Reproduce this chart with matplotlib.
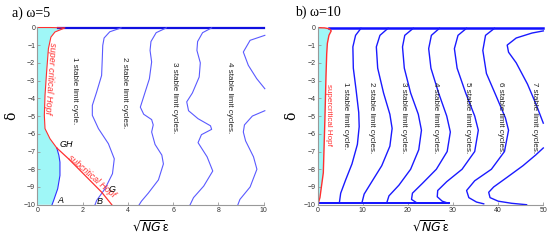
import numpy as np
import matplotlib
matplotlib.use("Agg")
import matplotlib.pyplot as plt

plt.rcParams['font.family'] = ['Liberation Sans', 'DejaVu Sans']
plt.rcParams['mathtext.fontset'] = 'dejavusans'

# ---- panel a (omega = 5) ----
# supercritical Hopf (red), from the top down to GH
sup_a_x = [0.0, 0.6, 1.22, 0.78, 0.60, 0.49, 0.41, 0.34, 0.31, 0.34, 0.56, 0.86]
sup_a_y = [-0.01, -0.01, -0.03, -0.26, -0.55, -1.2, -2.52, -3.83, -4.96, -5.71, -6.28, -6.8]
# subcritical Hopf (red), GH down to the bottom
sub_a_x = [0.86, 1.37, 2.11, 2.84, 3.29]
sub_a_y = [-6.8, -7.4, -8.35, -9.29, -10.0]
# blue boundary GH -> A
bnd_a_x = [0.86, 0.95, 1.0, 1.0, 0.9, 0.71, 0.65]
bnd_a_y = [-6.8, -7.2, -7.6, -8.35, -9.1, -9.8, -10.0]

curves_a = [
    ([3.7, 3.2, 2.95, 2.89, 2.87, 2.84, 2.62, 2.43, 2.43, 2.70, 3.14, 3.40, 3.32, 2.99, 2.62, 2.55],
     [-0.03, -0.25, -0.6, -1.02, -1.77, -2.71, -3.65, -4.40, -4.96, -5.71, -6.56, -7.41, -8.25, -9.10, -9.76, -10.0]),
    ([5.7, 5.25, 5.02, 4.98, 5.05, 4.95, 4.70, 4.55, 4.70, 5.05, 5.12, 5.05, 5.20, 5.50, 5.57, 5.35, 4.90, 4.60, 4.50],
     [-0.03, -0.3, -0.8, -1.3, -1.95, -2.9, -3.9, -4.5, -4.9, -5.2, -5.5, -5.9, -6.6, -7.2, -7.7, -8.6, -9.35, -9.8, -10.0]),
    ([7.7, 7.3, 7.08, 7.05, 7.20, 7.15, 6.85, 6.60, 6.68, 7.10, 7.65, 7.70, 7.25, 7.10, 7.50, 7.75, 7.35, 6.90, 6.75],
     [-0.03, -0.3, -0.8, -1.3, -2.0, -2.8, -3.7, -4.2, -4.7, -5.15, -5.55, -5.75, -6.05, -6.5, -7.3, -8.1, -8.95, -9.6, -10.0]),
    ([10.05, 9.4, 9.1, 9.32, 9.69, 10.05],
     [-0.45, -0.73, -1.39, -2.14, -2.89, -3.46]),
    ([10.05, 9.5, 9.15, 9.1, 9.2, 9.55, 9.7, 9.4, 8.95, 8.86],
     [-4.7, -5.0, -5.5, -5.9, -6.4, -7.3, -8.0, -9.0, -9.7, -10.0]),
]
labels_a = ['1 stable limit cycle.', '2 stable limit cycles.',
            '3 stable limit cycles.', '4 stable limit cycles.']
label_a_x = [1.64, 3.85, 6.05, 8.5]
label_a_y = [-1.67, -1.67, -1.95, -1.95]

# ---- panel b (omega = 10) ----
sup_b_x = [0.0, 1.5, 2.6, 3.0, 2.5, 2.15, 2.0, 1.85, 1.6, 1.25, 0.5, 0.1]
sup_b_y = [-0.02, -0.03, -0.08, -0.2, -0.45, -0.9, -1.5, -2.7, -5.2, -8.2, -9.6, -9.95]

curves_b = [
    ([9.6, 8.4, 7.8, 7.9, 8.5, 9.1, 9.2, 8.8, 7.6, 6.2, 5.1, 4.8],
     [-0.05, -0.45, -1.1, -2.3, -3.5, -4.8, -5.6, -6.6, -7.7, -8.6, -9.35, -9.9]),
    ([15.6, 13.8, 13.0, 13.3, 14.6, 16.0, 16.5, 16.0, 14.2, 12.0, 10.3, 9.8],
     [-0.05, -0.45, -1.1, -2.3, -3.7, -4.9, -5.7, -6.7, -7.8, -8.7, -9.4, -9.9]),
    ([21.2, 19.3, 18.8, 19.2, 20.6, 22.3, 23.0, 22.4, 20.6, 18.0, 15.8, 15.3],
     [-0.05, -0.45, -1.1, -2.3, -3.7, -4.9, -5.8, -6.9, -8.0, -8.9, -9.5, -9.9]),
    ([27.0, 25.2, 24.6, 25.1, 26.8, 28.6, 29.4, 28.7, 26.3, 23.2, 21.0, 20.8, 22.0],
     [-0.05, -0.45, -1.2, -2.3, -3.7, -5.0, -5.9, -7.0, -8.0, -8.8, -9.35, -9.7, -9.9]),
    ([33.0, 31.1, 30.3, 30.9, 32.8, 34.8, 35.6, 34.8, 32.0, 28.6, 26.6, 26.5, 27.6, 29.0],
     [-0.05, -0.45, -1.2, -2.3, -3.7, -5.0, -5.8, -7.0, -8.0, -8.7, -9.2, -9.55, -9.8, -9.92]),
    ([39.2, 37.2, 36.6, 37.4, 39.6, 41.6, 42.3, 41.4, 38.5, 34.8, 33.0, 33.5, 35.2, 36.8],
     [-0.05, -0.45, -1.3, -2.6, -3.9, -5.1, -5.8, -7.0, -8.0, -8.65, -9.2, -9.6, -9.85, -9.95]),
    ([50.0, 47.5, 44.0, 42.0, 42.3, 44.0, 46.5, 48.5, 50.0],
     [-0.2, -0.32, -0.6, -1.0, -1.4, -2.0, -3.2, -4.4, -5.4]),
    ([50.0, 48.3, 45.5, 42.0, 39.0, 37.9, 38.2, 40.0, 43.0, 46.3],
     [-6.8, -7.2, -7.8, -8.45, -9.0, -9.3, -9.6, -9.8, -9.92, -10.0]),
]
labels_b = ['1 stable limit cycle.'] + ['%d stable limit cycles.' % n for n in range(2, 8)]
label_b_x = [6.2, 12.0, 19.0, 26.2, 33.3, 40.6, 48.0]
label_b_y = [-3.1] * 7

CYAN = '#9ff7f7'
RED = '#ff3030'


def style_axes(ax, xmax, xticks):
    ax.set_xlim(0, xmax)
    ax.set_ylim(-10, 0)
    ax.set_xticks(xticks)
    ax.set_yticks(range(-10, 1))
    for s in ['top', 'right']:
        ax.spines[s].set_visible(False)
    for s in ['left', 'bottom']:
        ax.spines[s].set_color('#999999')
        ax.spines[s].set_linewidth(0.8)
    ax.tick_params(direction='in', length=2, width=0.6, color='#999999',
                   labelsize=5, pad=1.5, labelcolor='#333333')
    ax.set_xlabel(r'$\sqrt{NG}$ε', fontsize=9, labelpad=4)
    ax.set_ylabel('δ', fontsize=10, family='DejaVu Serif', labelpad=4)


fig = plt.figure(figsize=(5.48, 2.4), dpi=100)
axa = fig.add_axes([0.0681, 0.147, 0.4131, 0.739])
axb = fig.add_axes([0.5797, 0.147, 0.4117, 0.739])

# panel a
fx = [0.0] + list(sup_a_x) + list(bnd_a_x[1:]) + [0.0]
fy = [0.0] + list(sup_a_y) + list(bnd_a_y[1:]) + [-10.0]
axa.fill(fx, fy, color=CYAN, lw=0)
axa.plot([0.9, 10], [-0.03, -0.03], color='#1010e0', lw=1.6, clip_on=False)
for cx, cy in curves_a:
    axa.plot(cx, cy, color='#5a5aff', lw=0.8, clip_on=False)
axa.plot(bnd_a_x, bnd_a_y, color='#3030ff', lw=0.8)
axa.plot(sup_a_x, sup_a_y, color=RED, lw=0.8, clip_on=False)
axa.plot(sub_a_x, sub_a_y, color=RED, lw=0.9)
for t, x, y in zip(labels_a, label_a_x, label_a_y):
    axa.text(x, y, t, rotation=270, ha='center', va='top', fontsize=5.8, color='#222222')
axa.text(0.57, -0.8, 'super critical Hopf', rotation=266, ha='center', va='top',
         fontsize=6.5, color=RED, style='italic')
axa.text(2.4, -8.4, 'subcritical Hopf', rotation=-41, ha='center', va='center',
         fontsize=6.3, color=RED, style='italic')
axa.text(1.3, -6.6, 'GH', fontsize=6.5, style='italic', ha='center', va='center')
axa.text(3.29, -9.13, 'G', fontsize=6.5, style='italic', ha='center', va='center')
axa.text(2.74, -9.8, 'B', fontsize=6.5, style='italic', ha='center', va='center')
axa.text(1.0, -9.75, 'A', fontsize=6.5, style='italic', ha='center', va='center')
style_axes(axa, 10, range(0, 11, 2))

# panel b
axb.fill([0.0] + sup_b_x + [0.0], [0.0] + sup_b_y + [-10.0], color=CYAN, lw=0)
axb.plot([2.6, 50], [-0.02, -0.02], color='#1010ff', lw=1.8, clip_on=False)
axb.plot([0.2, 29], [-9.93, -9.93], color='#1010ff', lw=1.4)
for cx, cy in curves_b:
    axb.plot(cx, cy, color='#1a1aff', lw=1.0, clip_on=False)
axb.plot(sup_b_x, sup_b_y, color=RED, lw=1.0)
for t, x, y in zip(labels_b, label_b_x, label_b_y):
    axb.text(x, y, t, rotation=270, ha='center', va='top', fontsize=5.8, color='#222222')
axb.text(2.3, -3.2, 'supercritical Hopf', rotation=270, ha='center', va='top',
         fontsize=5.8, color=RED)
style_axes(axb, 50, range(0, 51, 10))

fig.text(0.022, 0.945, 'a) ω=5', fontsize=10, family='Liberation Serif', va='center')
fig.text(0.538, 0.95, 'b) ω=10', fontsize=10, family='Liberation Serif', va='center')

fig.savefig('out.png', dpi=100)
